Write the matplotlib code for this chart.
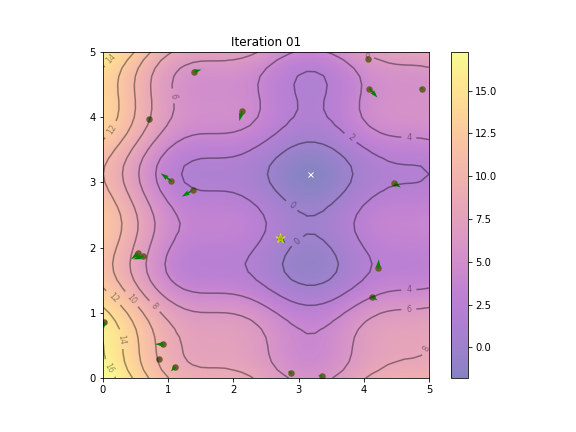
import numpy as np
import matplotlib
matplotlib.use("Agg")
import matplotlib.pyplot as plt

# surface height read along x and y (the surface adds up from these two profiles)
grid = np.linspace(0, 5, 41)
profile_x = [10.85, 10.07, 9.18, 8.22, 7.20, 6.18, 5.21, 4.35, 3.63, 3.06, 2.67,
             2.43, 2.32, 2.30, 2.30, 2.28, 2.20, 2.03, 1.75, 1.36, 0.90,
             0.40, -0.08, -0.51, -0.81, -0.98, -0.97, -0.80, -0.48, -0.04, 0.47,
             0.99, 1.49, 1.91, 2.23, 2.45, 2.57, 2.62, 2.64, 2.69, 2.81]
profile_y = [6.41, 5.79, 5.43, 5.27, 5.20, 5.09, 4.84, 4.38, 3.72, 2.91, 2.03,
             1.22, 0.58, 0.20, 0.09, 0.23, 0.51, 0.82, 1.06, 1.12, 0.96,
             0.62, 0.15, -0.32, -0.67, -0.81, -0.69, -0.29, 0.31, 1.02, 1.71,
             2.27, 2.63, 2.78, 2.77, 2.68, 2.64, 2.76, 3.12, 3.76, 4.65]

# particles
px = [1.40, 2.13, 0.70, 1.05, 1.376, 4.07, 4.085, 4.90, 4.47, 0.54,
      0.62, 0.015, 0.925, 0.864, 1.11, 2.72, 4.22, 4.13, 2.89, 3.36]
py = [4.70, 4.09, 3.98, 3.02, 2.88, 4.90, 4.44, 4.44, 2.985, 1.91,
      1.87, 0.854, 0.516, 0.296, 0.174, 2.15, 1.68, 1.25, 0.07, 0.026]
vx = [0.11, -0.04, 0.02, -0.165, -0.169, -0.03, 0.125, -0.05, 0.10, -0.11,
      -0.155, 0.0, -0.125, -0.024, -0.07, 0.08, 0.01, 0.08, -0.05, -0.06]
vy = [0.03, -0.15, 0.0, 0.12, -0.10, 0.02, -0.14, 0.01, -0.065, -0.09,
      -0.05, -0.094, 0.004, 0.004, -0.074, -0.08, 0.14, -0.06, 0.04, 0.014]
gbest = [2.72, 2.15]
minimum = [3.18, 3.13]

# where the contour labels sit
label_spots = [(0.138, 4.89), (0.107, 3.82), (1.104, 4.33), (3.81, 3.70), (4.69, 3.70),
               (4.06, 4.97), (2.91, 2.67), (2.96, 2.12), (4.69, 1.375), (4.69, 1.06),
               (4.95, 0.455), (0.169, 1.24), (0.45, 1.22), (0.80, 1.11), (0.31, 0.60),
               (0.118, 0.158)]

z = np.add.outer(np.array(profile_y), np.array(profile_x))

fig = plt.figure(figsize=(8, 6), dpi=72)
W, H = 576.0, 432.0
ax = fig.add_axes([103 / W, 1 - 378 / H, 326 / W, 326 / H])
cax = fig.add_axes([451 / W, 1 - 378 / H, 17 / W, 326 / H])

img = ax.imshow(z, extent=[0, 5, 0, 5], origin="lower", cmap="plasma", alpha=0.5,
                interpolation="bilinear")
fig.colorbar(img, cax=cax)
ax.plot([minimum[0]], [minimum[1]], marker="x", markersize=5, color="white")
contours = ax.contour(grid, grid, z, 10, colors="black", alpha=0.4)
ax.clabel(contours, inline=True, fontsize=8, fmt="%.0f", manual=label_spots)
ax.scatter(px, py, marker="o", s=42, color="#735a32", linewidths=0)
ax.quiver(px, py, vx, vy, color="green", width=0.005, angles="xy", scale_units="xy", scale=1)
ax.scatter([gbest[0]], [gbest[1]], marker="*", s=100, color="yellow", alpha=0.5)
ax.set_xlim([0, 5])
ax.set_ylim([0, 5])
ax.set_title("Iteration 01", fontsize=12)

fig.savefig("out.png", dpi=72)
